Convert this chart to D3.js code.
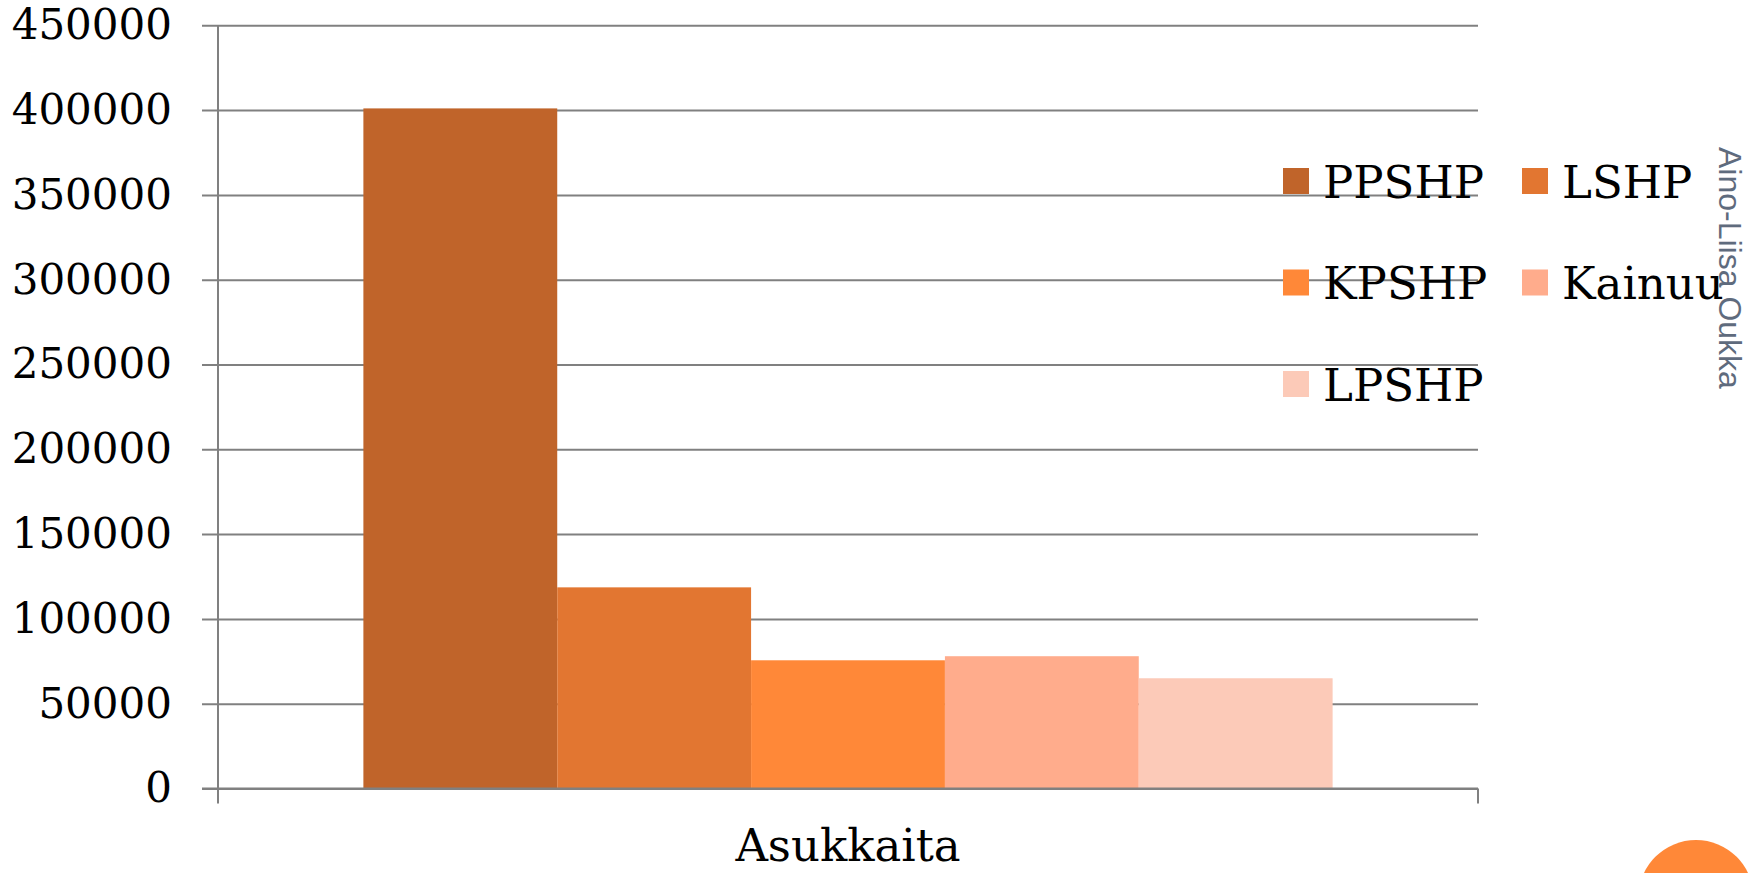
<!DOCTYPE html>
<html>
<head>
<meta charset="utf-8">
<script src="https://cdn.jsdelivr.net/npm/d3@7"></script>
<style>
  body { margin: 0; background: #fff; }
  svg { display: block; }
</style>
</head>
<body>
<svg></svg>
<script>
// data
const categories = ["Asukkaita"]
const series = ["PPSHP", "LSHP", "KPSHP", "Kainuu", "LPSHP"]
const values = [401000, 118600, 75600, 78000, 65000]
const yTicks = [0, 50000, 100000, 150000, 200000, 250000, 300000, 350000, 400000, 450000]
const colors = ["#c0642a", "#e27631", "#ff8838", "#ffac8c", "#fccab8"]

const svg = d3.select("svg")
  .attr("width", 1758)
  .attr("height", 873)

const plotLeft = 218, plotRight = 1478, plotTop = 25.3, plotBottom = 788.5

const y = d3.scaleLinear()
  .domain([0, 450000])
  .range([plotBottom, plotTop])

const xGroup = d3.scaleBand()
  .domain(categories)
  .range([plotLeft, plotRight])

const xSeries = d3.scaleBand()
  .domain(series)
  .range([0, xGroup.bandwidth()])
  .paddingInner(0)
  .paddingOuter(0.75)

// y axis + gridlines
const yAxis = svg.append("g")
  .attr("transform", `translate(${plotLeft},0)`)
  .call(d3.axisLeft(y).tickValues(yTicks).tickSize(16).tickPadding(30).tickFormat(d3.format("d")))

yAxis.select(".domain").remove()
yAxis.selectAll(".tick line")
  .attr("x1", plotRight - plotLeft)
  .attr("x2", -16)
  .attr("stroke", "#808080")
  .attr("stroke-width", 2)
yAxis.selectAll(".tick text")
  .attr("font-family", "DejaVu Serif")
  .attr("font-size", 42)
  .attr("fill", "#000")

// vertical axis line and category ticks
svg.append("line")
  .attr("x1", plotLeft).attr("x2", plotLeft)
  .attr("y1", y(450000)).attr("y2", plotBottom + 15)
  .attr("stroke", "#808080").attr("stroke-width", 2)

svg.append("line")
  .attr("x1", plotRight).attr("x2", plotRight)
  .attr("y1", plotBottom).attr("y2", plotBottom + 15)
  .attr("stroke", "#808080").attr("stroke-width", 2)

// bars
const groups = svg.selectAll("g.cat")
  .data(categories)
  .enter()
  .append("g")
  .attr("class", "cat")
  .attr("transform", d => `translate(${xGroup(d)},0)`)

groups.selectAll("rect")
  .data(series.map((s, i) => ({ name: s, value: values[i], color: colors[i] })))
  .enter()
  .append("rect")
  .attr("x", d => xSeries(d.name))
  .attr("width", xSeries.bandwidth())
  .attr("y", d => y(d.value))
  .attr("height", d => y(0) - y(d.value))
  .attr("fill", d => d.color)

// redraw the zero line over bars
svg.append("line")
  .attr("x1", plotLeft - 16).attr("x2", plotRight)
  .attr("y1", y(0)).attr("y2", y(0))
  .attr("stroke", "#808080").attr("stroke-width", 2)

// category label
svg.selectAll("text.cat")
  .data(categories)
  .enter()
  .append("text")
  .attr("class", "cat")
  .attr("x", d => xGroup(d) + xGroup.bandwidth() / 2)
  .attr("y", 861)
  .attr("text-anchor", "middle")
  .attr("font-family", "DejaVu Serif")
  .attr("font-size", 45)
  .text(d => d)

// legend, two columns
const legendX = [1283, 1522]
const legendY = [181, 282.5, 384]

const legend = svg.selectAll("g.legend")
  .data(series)
  .enter()
  .append("g")
  .attr("class", "legend")
  .attr("transform", (d, i) => `translate(${legendX[i % 2]},${legendY[Math.floor(i / 2)]})`)

legend.append("rect")
  .attr("x", 0).attr("y", -13)
  .attr("width", 26).attr("height", 26)
  .attr("fill", (d, i) => colors[i])

legend.append("text")
  .attr("x", 40)
  .attr("y", 16.5)
  .attr("font-family", "DejaVu Serif")
  .attr("font-size", 45)
  .attr("fill", "#000")
  .text(d => d)

// author note on the right edge
svg.append("text")
  .attr("transform", "translate(1719,147) rotate(90)")
  .attr("font-family", "Liberation Sans")
  .attr("font-size", 32)
  .attr("fill", "#5f6b7d")
  .text("Aino-Liisa Oukka")

// orange corner dot
svg.append("circle")
  .attr("cx", 1696).attr("cy", 897.5).attr("r", 57.5)
  .attr("fill", "#ff8838")
</script>
</body>
</html>
